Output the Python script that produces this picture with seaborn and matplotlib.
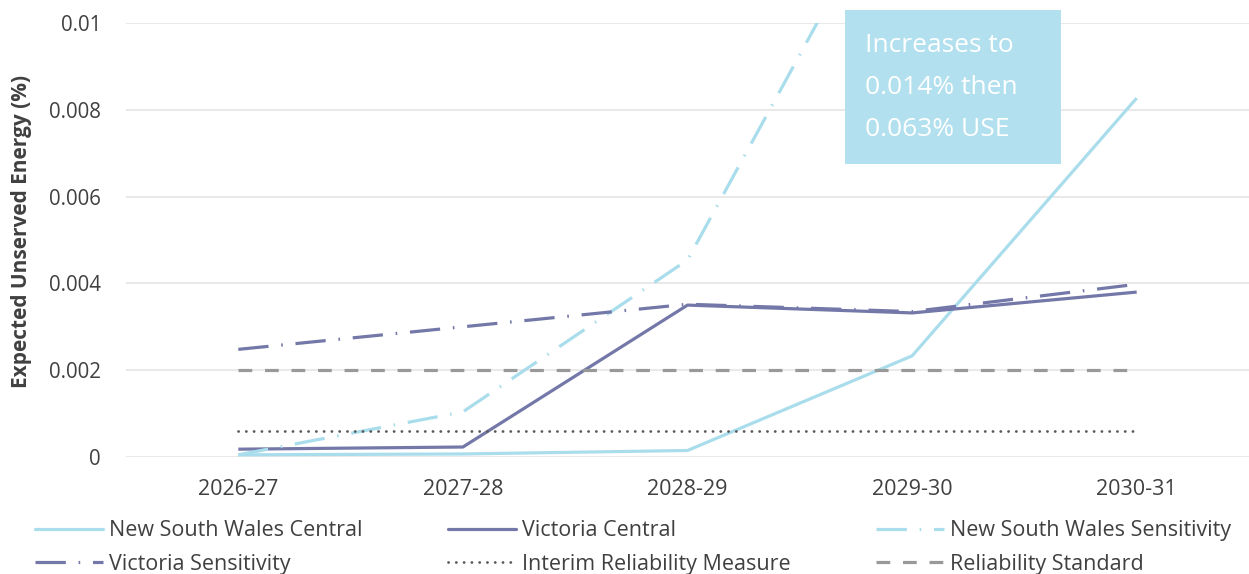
import matplotlib
matplotlib.use("Agg")
import matplotlib.pyplot as plt
import seaborn as sns
import pandas as pd
from matplotlib.patches import Rectangle
from matplotlib.lines import Line2D

years = ["2026-27", "2027-28", "2028-29", "2029-30", "2030-31"]
nsw_central = [0.00005, 0.00007, 0.00015, 0.00233, 0.00827]
vic_central = [0.00018, 0.00023, 0.00350, 0.00332, 0.00380]
nsw_sensitivity = [0.00005, 0.00104, 0.00454, 0.014, 0.063]
vic_sensitivity = [0.00248, 0.00300, 0.00352, 0.00335, 0.00398]
interim_measure = [0.0006] * 5
reliability_standard = [0.002] * 5
y_ticks = [0, 0.002, 0.004, 0.006, 0.008, 0.01]
y_tick_labels = ["0", "0.002", "0.004", "0.006", "0.008", "0.01"]

series_names = ["New South Wales Central", "Victoria Central", "New South Wales Sensitivity",
                "Victoria Sensitivity", "Interim Reliability Measure", "Reliability Standard"]
series_values = [nsw_central, vic_central, nsw_sensitivity, vic_sensitivity,
                 interim_measure, reliability_standard]

LIGHT = "#A9DDEC"
PURPLE = "#7478A8"
GREY = "#999999"
DOT = "#595959"
TEXT = "#404040"

styles = {
    "New South Wales Central": dict(color=LIGHT, lw=2.3, ls="-"),
    "Victoria Central": dict(color=PURPLE, lw=2.3, ls="-"),
    "New South Wales Sensitivity": dict(color=LIGHT, lw=2.3, ls=(0, (9.5, 4.0, 0.5, 4.0))),
    "Victoria Sensitivity": dict(color=PURPLE, lw=2.3, ls=(0, (9.5, 4.0, 0.5, 4.0))),
    "Interim Reliability Measure": dict(color=DOT, lw=2.0, ls=(0, (0.05, 2.75))),
    "Reliability Standard": dict(color=GREY, lw=2.3, ls=(0, (4.3, 4.0))),
}

sns.set_theme(style="white")
plt.rcParams["font.family"] = ["Open Sans", "DejaVu Sans"]

fig = plt.figure(figsize=(12.49, 5.74), dpi=100)
ax = fig.add_axes([126 / 1249, 1 - 457 / 574, 1 - 126 / 1249, (457 - 23) / 574])

for name, vals in zip(series_names, series_values):
    df = pd.DataFrame({"year": years, "value": vals})
    st = styles[name]
    sns.lineplot(data=df, x="year", y="value", ax=ax, color=st["color"], lw=st["lw"],
                 sort=False, legend=False)
    line = ax.lines[-1]
    line.set_linestyle(st["ls"])
    line.set_solid_capstyle("butt")
    if name == "Interim Reliability Measure":
        line.set_dash_capstyle("round")
    else:
        line.set_dash_capstyle("butt")

ax.set_xlim(-0.5, 4.5)
ax.set_ylim(0, 0.01)
ax.set_yticks(y_ticks)
ax.set_yticklabels(y_tick_labels)
ax.yaxis.grid(True, color="#E3E3E3", lw=1.1)
ax.xaxis.grid(False)
ax.set_axisbelow(True)
for s in ax.spines.values():
    s.set_visible(False)
ax.tick_params(axis="y", length=0, pad=18, labelsize=14.8, labelcolor=TEXT)
ax.tick_params(axis="x", length=0, pad=16, labelsize=15.5, labelcolor=TEXT)
ax.set_xlabel("")
ax.set_ylabel("Expected Unserved Energy (%)", fontsize=15, fontweight="bold", color=TEXT)
ax.yaxis.set_label_coords(-0.0837, 0.52)

# annotation box
fig.add_artist(Rectangle((845 / 1249, 1 - 164 / 574), 216 / 1249, 154 / 574,
                         transform=fig.transFigure, facecolor="#B2E0EE", edgecolor="none", zorder=5))
for txt, base in zip(["Increases to", "0.014% then", "0.063% USE"], [51.7, 94, 136]):
    fig.text(865 / 1249, 1 - base / 574, txt, color="white", fontsize=19,
             va="baseline", ha="left", zorder=6)

handles = []
for name in series_names:
    st = styles[name]
    h = Line2D([0], [0], color=st["color"], lw=st["lw"], ls=st["ls"],
               dash_capstyle="round" if name == "Interim Reliability Measure" else "butt")
    handles.append(h)
order = [0, 3, 1, 4, 2, 5]
fig.legend([handles[i] for i in order], [series_names[i] for i in order],
           loc="center", bbox_to_anchor=(633 / 1249, 1 - 547.5 / 574), ncol=3, frameon=False,
           fontsize=15.5, handlelength=3.16, handletextpad=0.28, columnspacing=3.95,
           labelspacing=0.58, labelcolor=TEXT)

fig.savefig("out.png", dpi=100)
